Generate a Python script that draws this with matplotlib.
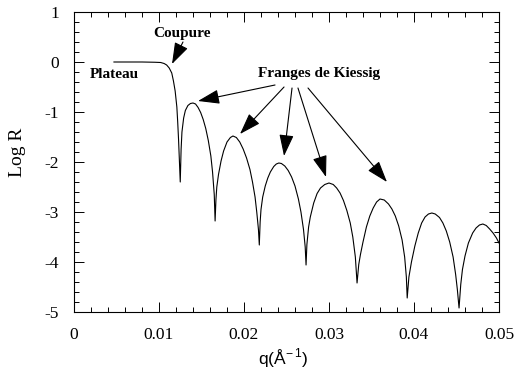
import matplotlib
matplotlib.use("Agg")
import matplotlib.pyplot as plt
from matplotlib.ticker import MultipleLocator

# reflectivity curve: q (1/A) and log R
q = [0.0047, 0.0060, 0.0080, 0.0095, 0.0102, 0.0106, 0.0109, 0.0112, 0.0115,
     0.0117, 0.0119, 0.0121, 0.0122, 0.0123, 0.0124, 0.0125,
     0.0126, 0.0127, 0.0129, 0.0131, 0.0134, 0.0137, 0.0140, 0.0143, 0.0146,
     0.0149, 0.0152, 0.0155, 0.0158, 0.0161, 0.0163, 0.0165, 0.0166,
     0.0167, 0.0168, 0.0170, 0.0173, 0.0176, 0.0180, 0.0184, 0.0187, 0.0191,
     0.0195, 0.0199, 0.0203, 0.0207, 0.0210, 0.0213, 0.0215, 0.0217, 0.0218,
     0.0219, 0.0220, 0.0222, 0.0225, 0.0228, 0.0231, 0.0235, 0.0238, 0.0241,
     0.0244, 0.0248, 0.0252, 0.0256, 0.0260, 0.0264, 0.0267, 0.0270, 0.0272, 0.0273,
     0.0274, 0.0276, 0.0278, 0.0282, 0.0286, 0.0290, 0.0295, 0.0300, 0.0305,
     0.0309, 0.0313, 0.0317, 0.0321, 0.0325, 0.0328, 0.0331, 0.0333,
     0.0335, 0.0337, 0.0340, 0.0344, 0.0348, 0.0352, 0.0356, 0.0360, 0.0365,
     0.0370, 0.0374, 0.0378, 0.0382, 0.0386, 0.0389, 0.0391, 0.0392,
     0.0394, 0.0397, 0.0401, 0.0405, 0.0409, 0.0413, 0.0417, 0.0421, 0.0425,
     0.0430, 0.0434, 0.0438, 0.0442, 0.0446, 0.0449, 0.0451, 0.0453,
     0.0455, 0.0457, 0.0460, 0.0464, 0.0469, 0.0473, 0.0477, 0.0481, 0.0485,
     0.0489, 0.0493, 0.0497, 0.0500]
log_r = [0.0, 0.0, 0.0, -0.005, -0.01, -0.03, -0.06, -0.12, -0.22,
         -0.38, -0.58, -0.9, -1.2, -1.55, -1.95, -2.4,
         -1.75, -1.4, -1.12, -0.97, -0.87, -0.83, -0.82, -0.84, -0.91,
         -1.01, -1.15, -1.33, -1.57, -1.88, -2.2, -2.65, -3.18,
         -2.75, -2.5, -2.25, -1.98, -1.78, -1.6, -1.51, -1.48, -1.51,
         -1.6, -1.74, -1.92, -2.15, -2.4, -2.7, -3.0, -3.35, -3.66,
         -3.2, -2.95, -2.7, -2.48, -2.32, -2.2, -2.09, -2.04, -2.02,
         -2.03, -2.08, -2.17, -2.3, -2.48, -2.74, -3.0, -3.35, -3.7, -4.06,
         -3.65, -3.3, -3.1, -2.82, -2.63, -2.52, -2.45, -2.42, -2.45,
         -2.52, -2.62, -2.77, -2.97, -3.22, -3.5, -3.9, -4.42,
         -4.05, -3.85, -3.6, -3.3, -3.08, -2.92, -2.8, -2.74, -2.76,
         -2.84, -2.94, -3.08, -3.28, -3.56, -3.9, -4.3, -4.72,
         -4.3, -4.0, -3.68, -3.42, -3.22, -3.1, -3.04, -3.02, -3.04,
         -3.11, -3.22, -3.38, -3.6, -3.9, -4.25, -4.55, -4.92,
         -4.45, -4.15, -3.88, -3.62, -3.42, -3.32, -3.26, -3.24, -3.27,
         -3.34, -3.42, -3.52, -3.62]

x_ticks = [0, 0.01, 0.02, 0.03, 0.04, 0.05]
x_tick_labels = ["0", "0.01", "0.02", "0.03", "0.04", "0.05"]
y_ticks = [1, 0, -1, -2, -3, -4, -5]
y_tick_labels = ["1", "0", "-1", "-2", "-3", "-4", "-5"]

# arrows: (tail, tip) in data units
coupure_arrow = ((0.01282, 0.40), (0.01153, -0.04))
kiessig_tails = [(0.02365, -0.46), (0.02471, -0.50), (0.02565, -0.52),
                 (0.02635, -0.52), (0.02753, -0.52)]
kiessig_tips = [(0.01459, -0.78), (0.01953, -1.44), (0.02471, -1.88),
                (0.02965, -2.30), (0.03682, -2.40)]

plt.rcParams["font.family"] = ["Liberation Serif", "DejaVu Serif"]
plt.rcParams["axes.unicode_minus"] = False
plt.rcParams["mathtext.fontset"] = "custom"
plt.rcParams["mathtext.rm"] = "Liberation Sans"

fig = plt.figure(figsize=(5.14, 3.72), dpi=100)
ax = fig.add_axes([74 / 514, 1 - 312 / 372, 425 / 514, 300 / 372])

ax.plot(q, log_r, color="black", lw=0.8)

ax.set_xlim(0, 0.05)
ax.set_ylim(-5, 1)
ax.set_xticks(x_ticks)
ax.set_xticklabels(x_tick_labels)
ax.set_yticks(y_ticks)
ax.set_yticklabels(y_tick_labels)
ax.xaxis.set_minor_locator(MultipleLocator(0.002))
ax.yaxis.set_minor_locator(MultipleLocator(0.2))
ax.tick_params(which="both", direction="in", top=True, right=True,
               width=0.7, labelsize=12.5, pad=11)
ax.tick_params(which="major", length=7.5)
ax.tick_params(which="minor", length=3.6)
for s in ax.spines.values():
    s.set_linewidth(0.8)

fig.text(17.5 / 514, 1 - 152 / 372, "Log R", rotation=90, ha="center",
         va="center", fontsize=14)
fig.text(283 / 514, 2 / 372, "q(Å$^{-\\,1}$)", ha="center", va="bottom",
         fontsize=12.5, family=["Liberation Sans", "DejaVu Sans"])

ann = dict(fontsize=11, fontweight="bold", ha="center", va="center")
ax.text(0.0047, -0.24, "Plateau", **ann)
ax.text(0.01265, 0.57, "Coupure", **ann)
ax.text(0.02882, -0.22, "Franges de Kiessig", **ann)

arrow = dict(arrowstyle="-|>,head_length=0.95,head_width=0.32", color="black",
             lw=0.8, mutation_scale=14, shrinkA=0, shrinkB=0)
ax.annotate("", xy=coupure_arrow[1], xytext=coupure_arrow[0], arrowprops=arrow)
for tail, tip in zip(kiessig_tails, kiessig_tips):
    ax.annotate("", xy=tip, xytext=tail, arrowprops=arrow)

fig.savefig("out.png", dpi=100)
